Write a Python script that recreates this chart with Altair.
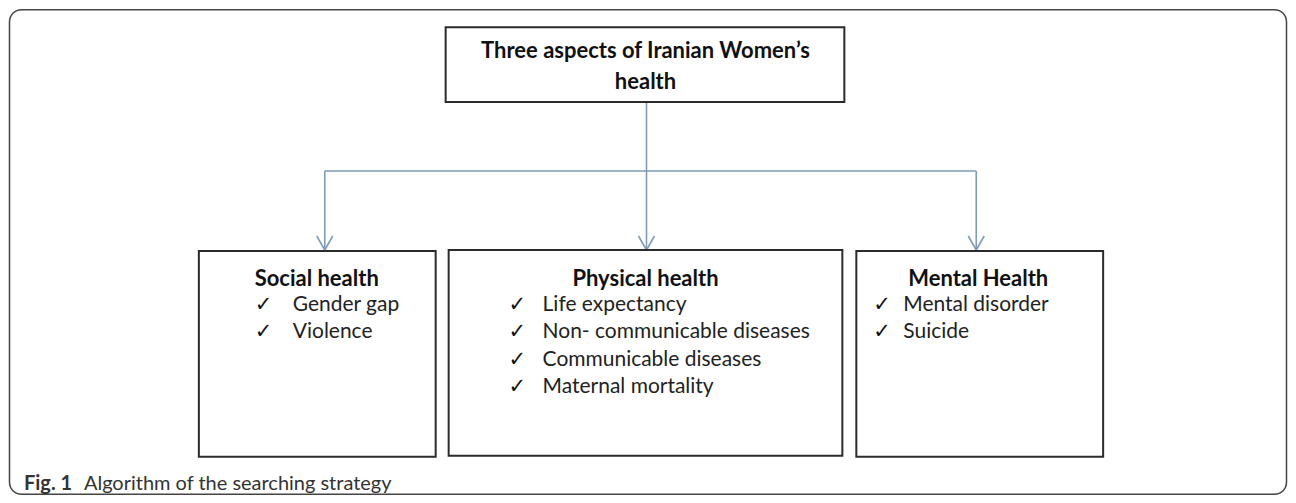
import altair as alt
import pandas as pd

# ---- text content ----
title_lines = ["Three aspects of Iranian Women\u2019s", "health"]
group_titles = ["Social health", "Physical health", "Mental Health"]
social_items = ["Gender gap", "Violence"]
physical_items = ["Life expectancy", "Non- communicable diseases",
                  "Communicable diseases", "Maternal mortality"]
mental_items = ["Mental disorder", "Suicide"]
caption_bold = "Fig. 1"
caption_text = "Algorithm of the searching strategy"

# ---- layout (page pixel coordinates) ----
W, H = 1280, 487
FONT = "Lato"
ARROW = "#7f9bb7"

xs = alt.Scale(domain=[8, 8 + W], nice=False, zero=False)
ys = alt.Scale(domain=[8, 8 + H], nice=False, zero=False, reverse=True)

def X(f="x"):
    return alt.X(f + ":Q", scale=xs, axis=None)

def Y(f="y"):
    return alt.Y(f + ":Q", scale=ys, axis=None)

frame = pd.DataFrame({"x": [9.5], "x2": [8 + W - 0.5], "y": [9.5], "y2": [8 + H - 0.5]})
boxes = pd.DataFrame({
    "x": [446, 199, 449, 857], "x2": [845, 436, 843, 1104],
    "y": [27, 251, 250, 251], "y2": [102, 457, 456, 457]})
arrow_x = [325, 647, 977]
lines = pd.DataFrame({
    "x": [647, 325] + arrow_x, "x2": [647, 977] + arrow_x,
    "y": [102, 171] + [171] * 3, "y2": [171, 171] + [250] * 3})
heads = pd.DataFrame({
    "x": [a + d for a in arrow_x for d in (-8, 8)],
    "x2": [a for a in arrow_x for _ in (0, 1)],
    "y": [236] * 6, "y2": [250] * 6})

title_df = pd.DataFrame({"t": title_lines, "x": [646, 646], "y": [51, 82]})
group_df = pd.DataFrame({"t": group_titles, "x": [317, 646, 979],
                         "y": [279, 279, 279]})

item_rows = []
for items, cx, tx in [(social_items, 255, 293), (physical_items, 509, 543), (mental_items, 874, 904)]:
    for i, it in enumerate(items):
        item_rows.append({"t": it, "x": tx, "cx": cx, "y": 305 + 27.3 * i})
items_df = pd.DataFrame(item_rows)

cap_df = pd.DataFrame({"t": [caption_bold], "x": [24], "y": [484]})
cap2_df = pd.DataFrame({"t": [caption_text], "x": [84], "y": [484]})

frame_l = alt.Chart(frame).mark_rect(fillOpacity=0, stroke="#444", strokeWidth=1.5,
                                      cornerRadius=12).encode(x=X(), x2="x2", y=Y(), y2="y2")
box_l = alt.Chart(boxes).mark_rect(fillOpacity=0, stroke="#2b2b2b", strokeWidth=2).encode(
    x=X(), x2="x2", y=Y(), y2="y2")
line_l = alt.Chart(lines).mark_rule(color=ARROW, strokeWidth=1.6).encode(x=X(), x2="x2", y=Y(), y2="y2")
head_l = alt.Chart(heads).mark_rule(color=ARROW, strokeWidth=1.6).encode(x=X(), x2="x2", y=Y(), y2="y2")

title_l = alt.Chart(title_df).mark_text(font=FONT, fontSize=22, fontWeight="bold",
                                        color="#111", align="center", baseline="middle").encode(
    x=X(), y=Y(), text="t:N")
group_l = alt.Chart(group_df).mark_text(font=FONT, fontSize=22, fontWeight="bold",
                                        color="#111", align="center", baseline="middle").encode(
    x=X(), y=Y(), text="t:N")
item_l = alt.Chart(items_df).mark_text(font=FONT, fontSize=21, color="#222",
                                       align="left", baseline="middle").encode(
    x=X(), y=Y(), text="t:N")
check_l = alt.Chart(items_df).mark_text(font="DejaVu Sans", fontSize=21, color="#111",
                                        align="left", baseline="middle", text="\u2713").encode(
    x=X("cx"), y=Y())
cap_l = alt.Chart(cap_df).mark_text(font=FONT, fontSize=20, fontWeight="bold", color="#333",
                                    align="left", baseline="middle").encode(x=X(), y=Y(), text="t:N")
cap2_l = alt.Chart(cap2_df).mark_text(font=FONT, fontSize=20, color="#333",
                                      align="left", baseline="middle").encode(x=X(), y=Y(), text="t:N")

chart = alt.layer(frame_l, line_l, head_l, box_l, title_l, group_l,
                  item_l, check_l, cap_l, cap2_l).properties(
    width=W, height=H, padding=0, background="white"
).configure_view(stroke=None)

chart.save("out.html", embed_options={"renderer": "svg", "actions": False})
